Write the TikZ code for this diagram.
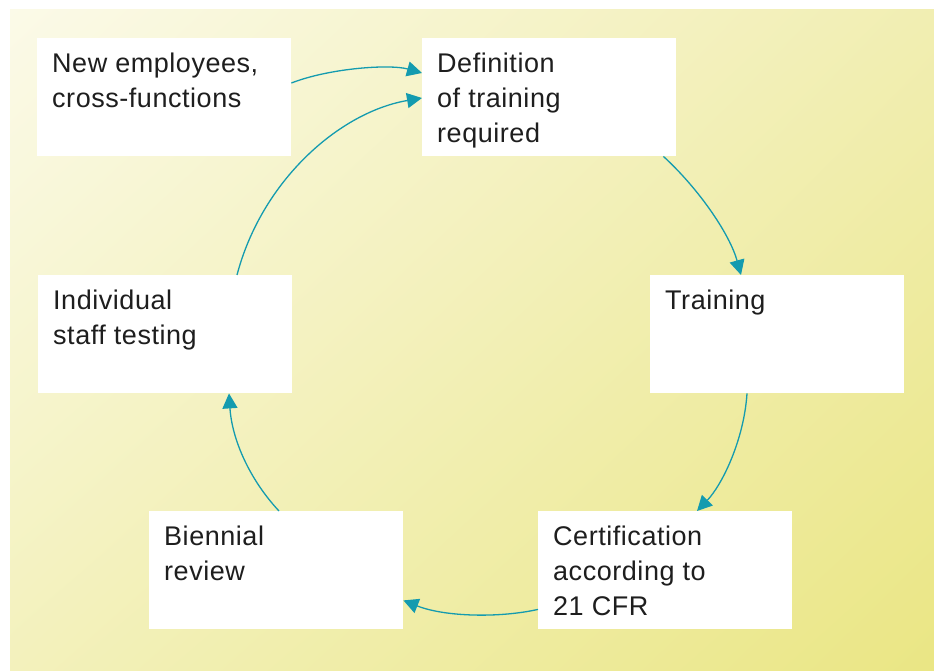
\documentclass[tikz,border=0pt]{standalone}
\usepackage{fontspec}
\setmainfont{Liberation Sans}[LetterSpace=2]
\usetikzlibrary{arrows.meta,shadings}
\definecolor{arrowc}{RGB}{20,155,175}
\definecolor{bgUL}{RGB}{251,250,232}
\definecolor{bgUR}{RGB}{241,238,178}
\definecolor{bgLL}{RGB}{243,241,188}
\definecolor{bgLR}{RGB}{234,230,132}
\definecolor{txt}{RGB}{30,30,30}
\newcommand\boxtxt[1]{\parbox[t][118pt][t]{224pt}{\raggedright\fontsize{27}{35}\selectfont\vspace*{10pt}\strut #1}}
\tikzset{
  stagebox/.style={fill=white, draw=none, anchor=north west, inner xsep=15pt, inner ysep=0pt,
    minimum width=254pt, minimum height=118pt, text=txt},
  flow/.style={draw=arrowc, line width=1.3pt, -{Triangle[length=15pt,width=15pt]}}
}
\begin{document}
\begin{tikzpicture}[x=1pt,y=-1pt]
\useasboundingbox (0,0) rectangle (934,671);
\shade[upper left=bgUL, upper right=bgUR, lower left=bgLL, lower right=bgLR] (10,10) rectangle (934,671);

\node[stagebox] (ne) at (37,38) {\boxtxt{New employees,\\cross-functions}};
\node[stagebox] (def) at (422,38) {\boxtxt{Definition\\of training\\required}};
\node[stagebox] (tr) at (650,275) {\boxtxt{Training}};
\node[stagebox] (cert) at (538,511) {\boxtxt{Certification\\according to\\21 CFR}};
\node[stagebox] (bi) at (149,511) {\boxtxt{Biennial\\review}};
\node[stagebox] (ind) at (38,275) {\boxtxt{Individual\\staff testing}};

\draw[flow] ([yshift=-45pt]ne.north east) .. controls (330,68) and (390,64) .. ([yshift=-35pt]def.north west);
\draw[flow] ([xshift=199pt]ind.north west) .. controls (262,180) and (340,112) .. ([yshift=-60pt]def.north west);
\draw[flow] ([xshift=-13pt]def.south east) .. controls (700,190) and (730,235) .. ([xshift=91pt]tr.north west);
\draw[flow] ([xshift=97pt]tr.south west) .. controls (744,440) and (722,485) .. ([xshift=159pt]cert.north west);
\draw[flow] ([yshift=20pt]cert.south west) .. controls (500,618) and (445,617) .. ([yshift=29pt]bi.south east);
\draw[flow] ([xshift=130pt]bi.north west) .. controls (250,480) and (232,440) .. ([xshift=191pt]ind.south west);
\end{tikzpicture}
\end{document}
